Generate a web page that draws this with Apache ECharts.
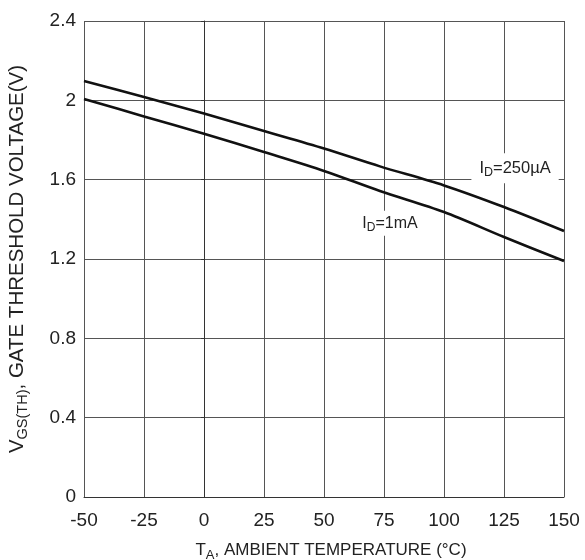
<!DOCTYPE html>
<html>
<head>
<meta charset="utf-8">
<script src="https://cdn.jsdelivr.net/npm/echarts@6/dist/echarts.min.js"></script>
<style>html,body{margin:0;padding:0;background:#fff}#c{width:585px;height:560px}</style>
</head>
<body>
<div id="c"></div>
<script>
const temps = [-50, -25, 0, 25, 50, 73.3, 100, 125, 150];
const vth250uA = [2.097, 2.017, 1.933, 1.845, 1.757, 1.667, 1.571, 1.462, 1.341];
const vth1mA = [2.007, 1.919, 1.832, 1.739, 1.644, 1.543, 1.437, 1.311, 1.190];
const xTicks = [-50, -25, 0, 25, 50, 75, 100, 125, 150];
const yTicks = [0, 0.4, 0.8, 1.2, 1.6, 2.0, 2.4];

const font = 'Liberation Sans, Arial, sans-serif';
const chart = echarts.init(document.getElementById('c'));
const pairs = (xs, ys) => xs.map((x, i) => [x, ys[i]]);

chart.setOption({
  animation: false,
  backgroundColor: '#fff',
  grid: {left: 84, right: 21, top: 21, bottom: 63, outerBoundsMode: 'none', containLabel: false},
  xAxis: {
    type: 'value', min: -50, max: 150, interval: 25,
    axisLine: {lineStyle: {color: '#333', width: 1}},
    axisTick: {show: false},
    splitLine: {show: true, lineStyle: {color: '#555', width: 1}},
    axisLabel: {color: '#222', fontSize: 19, fontFamily: font, margin: 14},
    name: '{m|T}{s|A}{m|, AMBIENT TEMPERATURE (°C)}',
    nameLocation: 'middle', nameGap: 42,
    nameTextStyle: {padding: [0, 0, 0, 14], rich: {
      m: {fontSize: 17, fontFamily: font, color: '#222'},
      s: {fontSize: 13, fontFamily: font, color: '#222', padding: [10, 0, 0, 0]}
    }}
  },
  yAxis: {
    type: 'value', min: 0, max: 2.4, interval: 0.4,
    axisLine: {show: true, lineStyle: {color: '#333', width: 1}},
    axisTick: {show: true, length: 3, lineStyle: {color: '#333'}},
    splitLine: {show: true, lineStyle: {color: '#555', width: 1}},
    axisLabel: {color: '#222', fontSize: 19, fontFamily: font, margin: 8,
      formatter: v => (Math.round(v * 10) / 10).toString()},
    name: '{m|V}{s|GS(TH)}{m|, GATE THRESHOLD VOLTAGE(V)}',
    nameLocation: 'middle', nameGap: 54, nameRotate: 90,
    nameTextStyle: {rich: {
      m: {fontSize: 20.5, fontFamily: font, color: '#222'},
      s: {fontSize: 14.5, fontFamily: font, color: '#222', padding: [11, 0, 0, 0]}
    }}
  },
  series: [
    {
      type: 'line', data: pairs(temps, vth250uA), smooth: 0.3, symbol: 'none',
      lineStyle: {color: '#111', width: 2.6},
      markPoint: {
        symbol: 'rect', symbolSize: 1, itemStyle: {color: 'rgba(0,0,0,0)'},
        data: [{coord: [129.6, 1.657], value: 0}],
        label: {show: true, position: 'inside',
          formatter: '{m|I}{s|D}{m|=250µA}',
          backgroundColor: '#fff', padding: [4, 8, 4, 8],
          rich: {
            m: {fontSize: 16.5, fontFamily: font, color: '#222'},
            s: {fontSize: 12.5, fontFamily: font, color: '#222', padding: [9, 0, 0, 0]}
          }}
      }
    },
    {
      type: 'line', data: pairs(temps, vth1mA), smooth: 0.3, symbol: 'none',
      lineStyle: {color: '#111', width: 2.6},
      markPoint: {
        symbol: 'rect', symbolSize: 1, itemStyle: {color: 'rgba(0,0,0,0)'},
        data: [{coord: [77.5, 1.38], value: 0}],
        label: {show: true, position: 'inside',
          formatter: '{m|I}{s|D}{m|=1mA}',
          backgroundColor: '#fff', padding: [2, 2, 2, 2],
          rich: {
            m: {fontSize: 16, fontFamily: font, color: '#222'},
            s: {fontSize: 12, fontFamily: font, color: '#222', padding: [9, 0, 0, 0]}
          }}
      }
    }
  ]
});
</script>
</body>
</html>
